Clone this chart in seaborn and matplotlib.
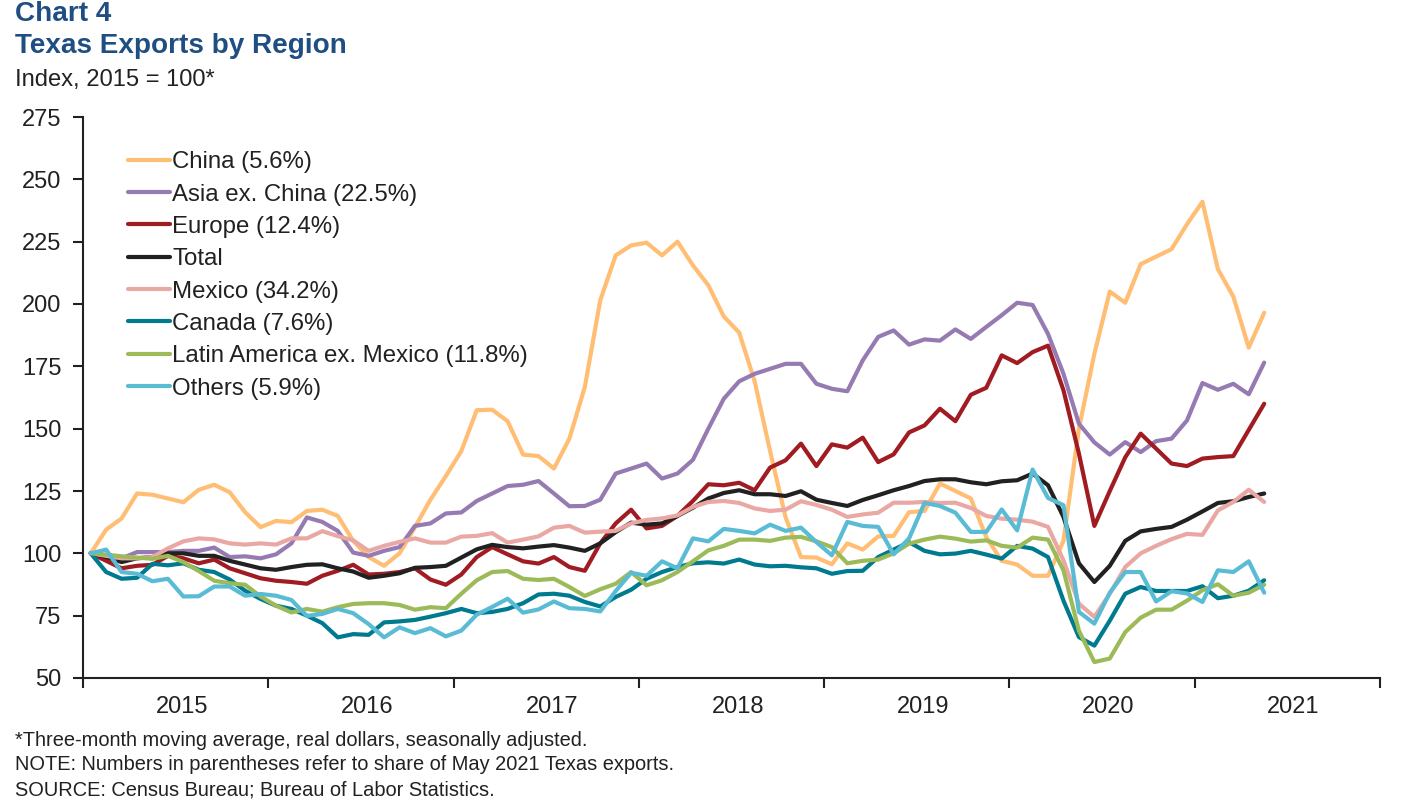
import numpy as np, pandas as pd, matplotlib
matplotlib.use('Agg')
import matplotlib.pyplot as plt
import seaborn as sns

# ── Data (monthly, Jan 2015 - May 2021) ──────────────────────────────────────
china = [100,109.5,114,124,123.5,122,120.5,125.5,127.5,124.5,116.5,110.5,113,112.5,117,117.5,115,105,98.5,95,100,110.5,121.5,131,141,
         157.4,157.6,153,139.6,139,134,146,166.7,201.5,219.5,223.5,224.6,219.5,225,215.5,207.5,195,188.5,169,141,114.5,98.5,98.3,95.6,104,
         101.5,106.8,107,116.5,117,128,125,122,106.5,97,95.5,91,91,105,150,180,205,200.5,216,219,222,232,241,214,203,182.5,196.5]
asia = [100,99,98,100.5,100.5,100.5,101,101,102.3,98.5,98.8,98,99.6,104,114.4,112.6,109,100.3,99,101,102.5,111,112,116,116.4,
        121,124,127,127.5,129,124,118.9,119,121.5,132,134,136,130,132,137.5,150,162,169,172,174,176,176,168,166,165,
        177.4,186.8,189.4,183.7,185.8,185.3,189.8,186,190.8,195.5,200.5,199.6,188,172,152,144.5,139.6,144.6,140.6,145,146,153.3,168.3,165.6,168,163.8,176.5]
europe = [100,97,94,95,95.4,99,98,96,97.5,94,92,90,89,88.5,87.8,91,93,95.4,91.5,91.8,92.5,94,89.5,87.4,91.5,
          98.5,102.5,99.6,96.8,95.9,98.5,94.5,93,104,112,117.5,110,111,115,121,127.7,127.3,128.3,125.3,134.4,137.3,144,135,143.7,142.4,
          146.4,136.6,139.7,148.5,151.3,158,153,163.6,166.4,179.4,176.3,180.7,183.3,165.4,140,111,125,138.5,148,142,136,135,138,138.6,139,149.5,160]
total = [100,98.5,96.5,98,98.5,100,100,99,99,97,95.5,94,93.4,94.5,95.4,95.6,94,92.7,90.2,91,92,94.2,94.5,95,98.3,
         101.6,103.4,102.5,102,102.7,103.3,102.3,101,104,108.5,112.3,111.5,112,115,118.3,122,124.2,125.3,123.7,123.7,123,124.9,121.5,120.2,119,
         121.4,123.3,125.3,127,129,129.7,129.7,128.5,127.7,128.9,129.3,132,127.3,114.6,96,88.5,95,105,108.8,109.8,110.6,113.5,116.8,120.2,120.9,122.6,124]
mexico = [100,99,98,98,98.5,102,104.8,106,105.6,104,103.5,104,103.5,106,106,108.9,106.9,105.2,101,103,104.6,106,104.3,104.3,106.7,
          107,108.1,104.3,105.5,106.8,110.3,111,108.3,108.7,109,112,113.4,114,115.2,118.6,120.6,121,120.2,118,117,117.5,120.9,119.4,117.5,114.6,
          115.6,116.3,120.3,120.3,120.6,120.2,120.3,118.2,115,113.9,113.5,112.7,110.6,97.2,79.8,74.5,83.8,94.5,100,103,105.7,107.8,107.4,117.2,120.6,125.5,120.6]
canada = [100,92.5,89.8,90.2,95.8,95.2,96,93.4,92.5,89.5,85,81.7,79,77.7,75,72,66.3,67.6,67.3,72.3,72.7,73.3,74.6,76,77.7,
          76,76.5,77.7,80,83.5,83.8,83,80.5,78.7,82.5,85.4,89.8,92.5,94.5,96,96.4,95.9,97.5,95.5,94.8,95,94.4,94,91.8,92.9,
          93,98.5,101.5,104.5,101,99.6,99.9,101,99.5,97.9,103,101.9,98.5,81,66.4,63,73,83.8,86.5,84.9,84.9,84.9,86.8,82,83,85,89.2]
latam = [100,99.5,98.8,98.3,97.8,99,96.5,92.9,89,88,87.4,82.7,79,76.3,77.7,76.6,78.4,79.7,80,80,79.3,77.4,78.4,78,83.8,
         89.2,92.5,92.9,89.8,89.3,89.8,86.5,82.9,85.6,87.8,92.5,87.2,89.2,92.5,96.8,101.2,103,105.5,105.5,105,106.3,106.6,104.8,102.5,96,
         97,97.5,100,103.9,105.5,106.7,105.9,104.7,105.2,103,102.3,106.3,105.5,93.2,69,56.4,57.8,68.4,74.2,77.4,77.4,81,85.2,87.6,83,84.2,87.4]
others = [100,101.5,92.5,91.8,88.8,89.8,82.7,82.8,86.7,86.7,83,83.7,83,81.3,74.9,75.7,77.7,76,71.6,66.3,70.3,68,70,66.7,69,
          75.4,78.5,81.8,76.2,77.5,80.7,78,77.7,76.7,84.9,92.2,91,96.8,94,106,104.8,109.8,109,108,111.5,109,110.3,104.5,99.2,112.6,
          111,110.6,99.6,106,120.2,119,116.3,108.6,108.6,117.6,109.2,133.6,122.2,119.3,76.5,71.8,84.2,92.5,92.5,80.7,84.8,83.9,80.5,93.2,92.5,96.8,84.2]

names = ['China (5.6%)','Asia ex. China (22.5%)','Europe (12.4%)','Total','Mexico (34.2%)',
         'Canada (7.6%)','Latin America ex. Mexico (11.8%)','Others (5.9%)']
series = [china, asia, europe, total, mexico, canada, latam, others]
colors = ['#FFBE73','#967BB3','#A01C22','#212121','#E9A8A3','#007A8E','#9CBB58','#5ABBD5']
years = ['2015','2016','2017','2018','2019','2020','2021']

month = np.arange(len(china)) + 0.5
df = pd.concat([pd.DataFrame({'month': month, 'value': s, 'region': n}) for n, s in zip(names, series)])

# ── Figure ───────────────────────────────────────────────────────────────────
sns.set_theme(style='ticks')
plt.rcParams['font.family'] = ['Liberation Sans', 'DejaVu Sans']
INK = '#212121'
W, H = 1422, 810
fig = plt.figure(figsize=(W/100, H/100), dpi=100)
ax = fig.add_axes([83/W, 1-678/H, (1380-83)/W, (678-117)/H])

sns.lineplot(data=df, x='month', y='value', hue='region', hue_order=names, palette=colors,
             estimator=None, errorbar=None, lw=3, ax=ax, solid_capstyle='round')

ax.set_xlim(0, 84); ax.set_ylim(50, 275)
ax.set_xlabel(''); ax.set_ylabel('')
ax.set_yticks(range(50, 276, 25))
ax.tick_params(axis='y', labelsize=17, length=7, width=1.5, color=INK, labelcolor=INK, pad=8.5)
ax.set_xticks(range(0, 85, 12))
ax.set_xticklabels([])
ax.set_xticks(np.arange(6.4, 84, 12), labels=years, minor=True)
ax.tick_params(axis='x', which='major', length=7, width=1.5, color=INK)
ax.tick_params(axis='x', which='minor', length=0, labelsize=17, labelcolor=INK, pad=13)
sns.despine(ax=ax)
for side in ('left', 'bottom'):
    ax.spines[side].set_linewidth(1.5)
    ax.spines[side].set_color(INK)

handles, labels = ax.get_legend_handles_labels()
ax.legend(handles, labels, loc='upper left', bbox_to_anchor=(0.0347, 0.939), frameon=False,
          fontsize=17.3, labelcolor=INK, handlelength=1.75, handletextpad=0.1,
          labelspacing=0.43, borderpad=0, borderaxespad=0)

# ── Titles and notes ─────────────────────────────────────────────────────────
NAVY = '#1F4E82'
fig.text(15/W, 1-14/H, 'Chart 4', color=NAVY, fontsize=20.1, fontweight='bold', va='center')
fig.text(15/W, 1-46/H, 'Texas Exports by Region', color=NAVY, fontsize=20.1, fontweight='bold', va='center')
fig.text(15/W, 1-80/H, 'Index, 2015 = 100*', color=INK, fontsize=17.1, va='center')
fig.text(15/W, 1-741/H, '*Three-month moving average, real dollars, seasonally adjusted.', color=INK, fontsize=14.4, va='center')
fig.text(15/W, 1-765/H, 'NOTE: Numbers in parentheses refer to share of May 2021 Texas exports.', color=INK, fontsize=14.4, va='center')
fig.text(15/W, 1-790/H, 'SOURCE: Census Bureau; Bureau of Labor Statistics.', color=INK, fontsize=14.4, va='center')

fig.savefig('out.png', dpi=100)
